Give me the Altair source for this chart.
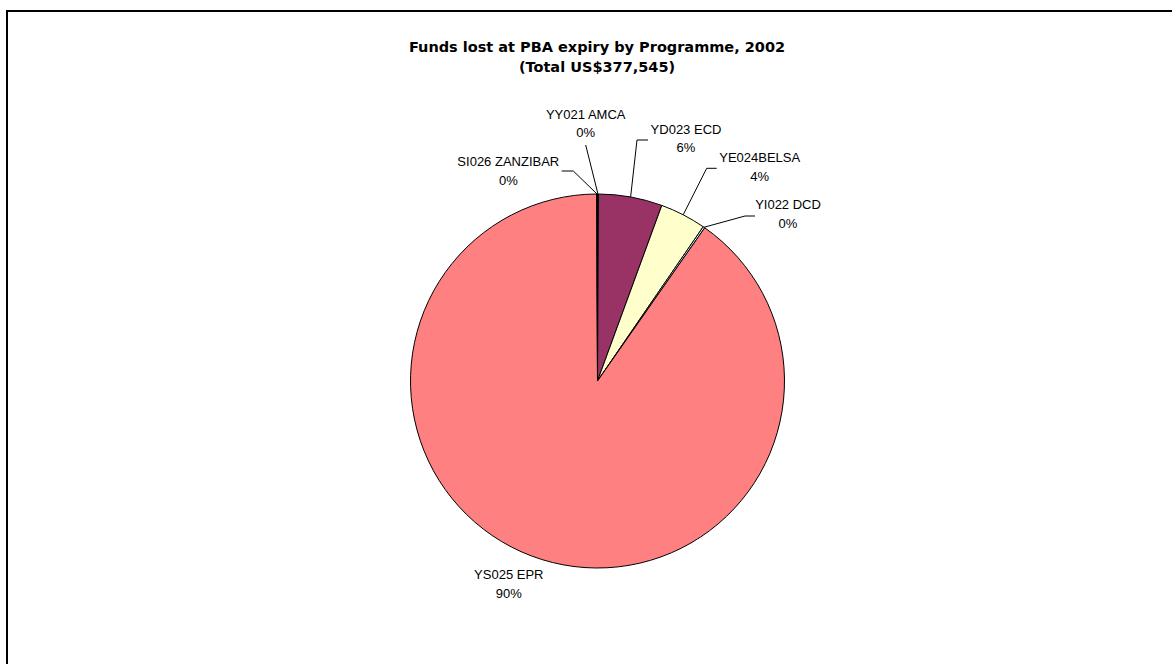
import math

import altair as alt
import pandas as pd

# Funds lost per programme (US$), in pie order clockwise from 12 o'clock
programmes = ["YY021 AMCA", "YD023 ECD", "YE024BELSA", "YI022 DCD", "YS025 EPR", "SI026 ZANZIBAR"]
funds_lost = [300, 20800, 15000, 600, 340545, 300]
slice_colors = ["#9999FF", "#993366", "#FFFFCC", "#CCFFFF", "#FF8080", "#CCCCFF"]

title_main = "Funds lost at PBA expiry by Programme, 2002"

# Canvas and pie geometry (pixels)
W, H = 1172, 664
CX, CY, R = 597.5, 381.0, 187.0

# Label anchors (centre of the first text line), as offsets from the pie centre (dy grows downward)
label_offsets = {
    "YY021 AMCA": (-11.8, -266.3),
    "YD023 ECD": (88.5, -251.5),
    "YE024BELSA": (162.2, -223.0),
    "YI022 DCD": (190.5, -176.0),
    "YS025 EPR": (-88.7, 194.3),
    "SI026 ZANZIBAR": (-89.2, -218.8),
}
# Leader lines: elbow point and end point next to the label
leader_offsets = {
    "YY021 AMCA": [(-11.8, -236.0)],
    "YD023 ECD": [(39.5, -241.0), (50.5, -241.0)],
    "YE024BELSA": [(109.2, -212.7), (119.2, -212.7)],
    "YI022 DCD": [(147.5, -165.0), (157.5, -165.0)],
    "SI026 ZANZIBAR": [(-24.2, -210.0), (-35.8, -210.0)],
}

total = sum(funds_lost)
slices = pd.DataFrame({
    "programme": programmes,
    "funds": funds_lost,
    "idx": list(range(len(programmes))),
})
slices["pct"] = [round(100 * v / total) for v in funds_lost]
slices["label"] = [f"{p}\n{q}%" for p, q in zip(programmes, slices["pct"])]
slices["lx"] = [label_offsets[p][0] for p in programmes]
slices["ly"] = [label_offsets[p][1] for p in programmes]

# Leader lines start on the rim at each slice's mid angle
rows = []
cum = 0
for name, v in zip(programmes, funds_lost):
    mid = (cum + v / 2) / total * 2 * math.pi
    cum += v
    if name not in leader_offsets:
        continue
    pts = [(R * math.sin(mid), -R * math.cos(mid))] + leader_offsets[name]
    for k, (px, py) in enumerate(pts):
        rows.append({"programme": name, "seq": k, "px": px, "py": py})
leaders = pd.DataFrame(rows)

titles = pd.DataFrame({
    "text": [title_main, f"(Total US${total:,})"],
    "tx": [-0.5, -0.5],
    "ty": [-329.0, -309.5],
})

xs = alt.Scale(domain=[-CX, W - CX], nice=False, zero=False)
ys = alt.Scale(domain=[-CY, H - CY], nice=False, zero=False, reverse=True)
no_axis = None

frame = alt.Chart(pd.DataFrame({"k": [0]})).mark_rect(
    fill="transparent", stroke="black", strokeWidth=2
).encode(
    x=alt.value(7), x2=alt.value(W + 20), y=alt.value(11), y2=alt.value(H + 20)
)

pie = alt.Chart(slices).mark_arc(
    outerRadius=R, stroke="black", strokeWidth=1
).encode(
    theta=alt.Theta("funds:Q", stack=True),
    color=alt.Color("programme:N", scale=alt.Scale(domain=programmes, range=slice_colors), legend=None),
    order=alt.Order("idx:Q"),
    x=alt.value(CX),
    y=alt.value(CY),
)

lines = alt.Chart(leaders).mark_line(color="black", strokeWidth=1).encode(
    x=alt.X("px:Q", scale=xs, axis=no_axis),
    y=alt.Y("py:Q", scale=ys, axis=no_axis),
    detail="programme:N",
    order="seq:Q",
)

labels = alt.Chart(slices).mark_text(
    font="Liberation Sans", fontSize=13, color="black", align="center",
    baseline="middle", lineBreak="\n", lineHeight=18.8
).encode(
    x=alt.X("lx:Q", scale=xs, axis=no_axis),
    y=alt.Y("ly:Q", scale=ys, axis=no_axis),
    text="label:N",
)

title = alt.Chart(titles).mark_text(
    font="DejaVu Sans", fontWeight="bold", fontSize=14.5, color="black",
    align="center", baseline="alphabetic"
).encode(
    x=alt.X("tx:Q", scale=xs, axis=no_axis),
    y=alt.Y("ty:Q", scale=ys, axis=no_axis),
    text="text:N",
)

chart = alt.layer(frame, pie, lines, labels, title).properties(
    width=W, height=H,
    autosize=alt.AutoSizeParams(type="none"),
    padding=0,
    background="white",
).configure_view(stroke=None)

chart.save("out.html", embed_options={"renderer": "svg", "actions": False})
